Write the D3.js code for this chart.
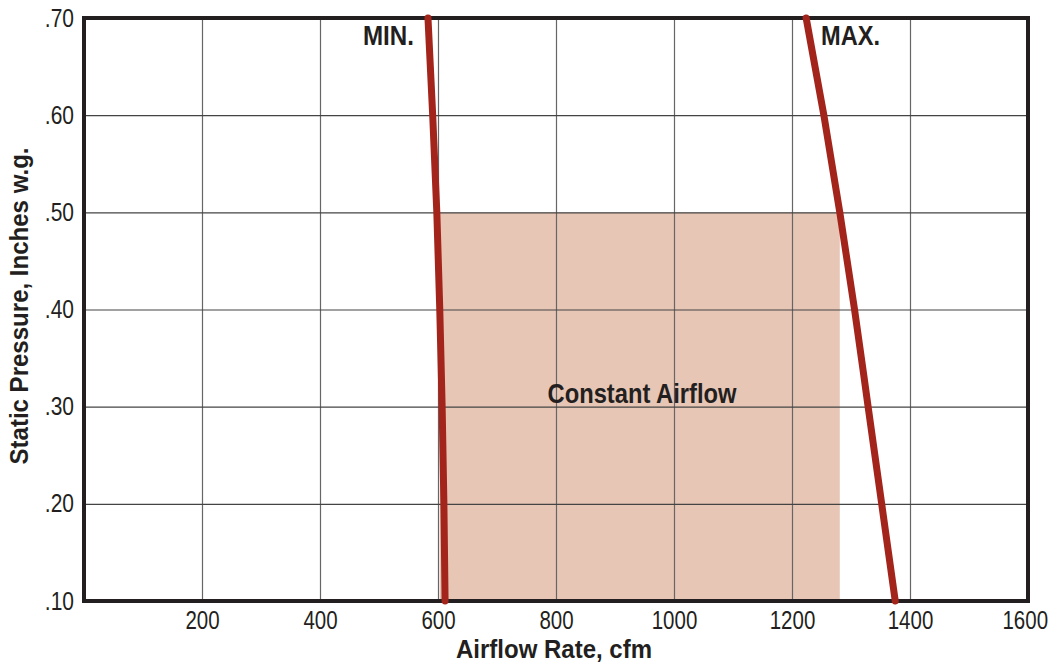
<!DOCTYPE html>
<html><head><meta charset="utf-8">
<script src="https://cdn.jsdelivr.net/npm/d3@7"></script>
<style>body{margin:0;background:#fff}svg{display:block}</style>
</head><body>
<svg id="c" width="1052" height="669"></svg>
<script>
const xTicks = [200, 400, 600, 800, 1000, 1200, 1400, 1600];
const yTicks = [0.10, 0.20, 0.30, 0.40, 0.50, 0.60, 0.70];
const yTickLabels = [".10", ".20", ".30", ".40", ".50", ".60", ".70"];
const minPressure = [0.70, 0.60, 0.50, 0.40, 0.30, 0.20, 0.10];
const minAirflow = [583, 591, 598, 603, 607, 610, 612];
const maxPressure = [0.70, 0.60, 0.50, 0.40, 0.30, 0.20, 0.10];
const maxAirflow = [1224, 1254, 1281, 1306, 1329, 1352, 1375];
const constantRegion = {x0: 603, x1: 1281, y0: 0.10, y1: 0.50};

const svg = d3.select("#c");
const L = 84, R = 1028, T = 18, B = 601;
const x = d3.scaleLinear().domain([0, 1600]).range([L, R]);
const y = d3.scaleLinear().domain([0.1, 0.7]).range([B, T]);
const font = "'Liberation Sans',Arial,Helvetica,sans-serif";

// constant airflow region
svg.append("rect")
  .attr("x", x(constantRegion.x0)).attr("y", y(constantRegion.y1))
  .attr("width", x(constantRegion.x1) - x(constantRegion.x0))
  .attr("height", y(constantRegion.y0) - y(constantRegion.y1))
  .attr("fill", "#e8c6b5");

// grid
const gx = svg.append("g").attr("transform", `translate(0,${B})`)
  .call(d3.axisBottom(x).tickValues(xTicks.filter(d => d < 1600)).tickSize(-(B - T)).tickFormat(""));
gx.select(".domain").remove();
gx.selectAll("line").attr("stroke", "#666").attr("stroke-width", 1.2);
const gy = svg.append("g").attr("transform", `translate(${L},0)`)
  .call(d3.axisLeft(y).tickValues(yTicks.filter(d => d > 0.1 && d < 0.7)).tickSize(-(R - L)).tickFormat(""));
gy.select(".domain").remove();
gy.selectAll("line").attr("stroke", "#444").attr("stroke-width", 1.2);

// tick labels (condensed by horizontal scaling around their anchor)
const ax = svg.append("g").attr("transform", `translate(0,${B})`)
  .call(d3.axisBottom(x).tickValues(xTicks).tickSize(0).tickPadding(10).tickFormat(d3.format("d")));
ax.select(".domain").remove();
ax.selectAll("text").attr("font-family", font).attr("font-size", 25).attr("fill", "#231f20")
  .attr("transform", "scale(0.82,1)");
ax.selectAll("text").filter(d => d === 1600).attr("dx", -4);
const ay = svg.append("g").attr("transform", `translate(${L},0)`)
  .call(d3.axisLeft(y).tickValues(yTicks).tickSize(0).tickPadding(10).tickFormat((d, i) => yTickLabels[i]));
ay.select(".domain").remove();
ay.selectAll("text").attr("font-family", font).attr("font-size", 25).attr("fill", "#231f20")
  .attr("x", -10 / 0.84).attr("transform", "scale(0.84,1)");

// frame
svg.append("rect").attr("x", L).attr("y", T).attr("width", R - L).attr("height", B - T)
  .attr("fill", "none").attr("stroke", "#231f20").attr("stroke-width", 4);

// lines
const line = d3.line().curve(d3.curveMonotoneY);
svg.append("path")
  .attr("d", line(minAirflow.map((a, i) => [x(a), y(minPressure[i])])))
  .attr("fill", "none").attr("stroke", "#a3241a").attr("stroke-width", 7).attr("stroke-linecap", "round");
svg.append("path")
  .attr("d", line(maxAirflow.map((a, i) => [x(a), y(maxPressure[i])])))
  .attr("fill", "none").attr("stroke", "#a3241a").attr("stroke-width", 7).attr("stroke-linecap", "round");

// labels
function bold(t, cx, by, w, size, rot) {
  const el = svg.append("text").text(t)
    .attr("font-family", font).attr("font-weight", "bold").attr("font-size", size)
    .attr("fill", "#231f20").attr("text-anchor", "middle")
    .attr("textLength", w).attr("lengthAdjust", "spacingAndGlyphs");
  if (rot) el.attr("transform", `translate(${cx},${by}) rotate(-90)`);
  else el.attr("x", cx).attr("y", by);
}
bold("MIN.", 388.5, 45, 51, 27);
bold("MAX.", 850.5, 45, 59, 27);
bold("Constant Airflow", 642, 403, 189, 27);
bold("Airflow Rate, cfm", 554, 658, 196, 25);
bold("Static Pressure, Inches w.g.", 28, 306, 317, 26, true);
</script>
</body></html>
